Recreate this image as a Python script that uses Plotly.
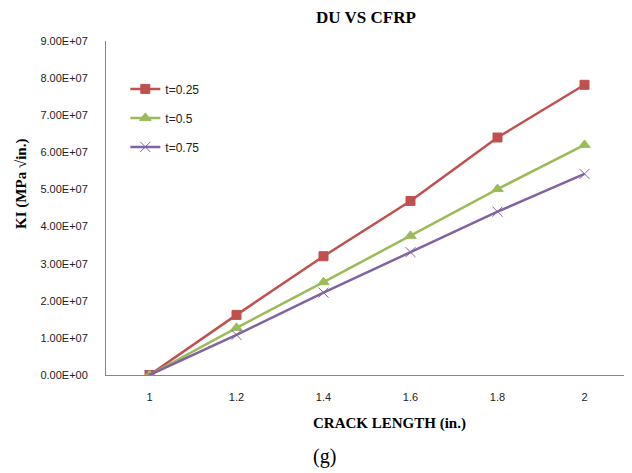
import plotly.graph_objects as go

crack_length = ["1", "1.2", "1.4", "1.6", "1.8", "2"]
t025 = [0, 1.62e7, 3.20e7, 4.69e7, 6.40e7, 7.82e7]
t05 = [0, 1.27e7, 2.50e7, 3.75e7, 5.01e7, 6.20e7]
t075 = [0, 1.08e7, 2.22e7, 3.31e7, 4.40e7, 5.42e7]
y_ticks = [i * 1e7 for i in range(10)]
y_tick_labels = ["%.2fE+07" % i if i else "0.00E+00" for i in range(10)]

fig = go.Figure()
series = [
    ("t=0.25", t025, "#C0504D", "square", 9),
    ("t=0.5", t05, "#9BBB59", "triangle-up", 10),
    ("t=0.75", t075, "#8064A2", "x-thin-open", 10),
]
for i, (name, vals, color, sym, sz) in enumerate(series):
    fig.add_trace(go.Scatter(
        x=crack_length, y=vals, name=name, mode="lines+markers",
        line=dict(color=color, width=2.5),
        marker=dict(symbol=sym, size=sz, color=color, line=dict(color=color, width=1)),
        legendgroup=str(i),
    ))

serif = "Liberation Serif"
sans = "Liberation Sans"
fig.update_layout(
    width=624, height=465,
    margin=dict(l=98, r=4, t=33, b=98),
    paper_bgcolor="white", plot_bgcolor="white",
    title=dict(text="<b>DU VS CFRP</b>", xref="paper", x=0.498, xanchor="center",
               yref="container", y=0.981, yanchor="middle",
               font=dict(family=serif, size=17, color="black")),
    showlegend=True,
    legend=dict(x=0.037, y=0.9, xanchor="left", yanchor="top", bgcolor="rgba(0,0,0,0)",
                font=dict(family=sans, size=12, color="#222"), tracegroupgap=10,
                traceorder="grouped", itemwidth=30),
    xaxis=dict(type="category", range=[-0.5, 5.5], showgrid=False, showline=True,
               linecolor="#868686", linewidth=1,
               ticks="outside", ticklen=12, tickcolor="rgba(0,0,0,0)",
               tickfont=dict(family=sans, size=11, color="#222")),
    yaxis=dict(range=[0, 9e7], tickvals=y_ticks, ticktext=y_tick_labels, showgrid=False,
               zeroline=False, showline=True, linecolor="#868686", linewidth=1,
               ticks="outside", ticklen=15, tickcolor="rgba(0,0,0,0)",
               tickfont=dict(family=sans, size=11, color="#222")),
    annotations=[
        dict(text="<b>KI (MPa √in.)</b>", textangle=-90, xref="paper", yref="paper",
             x=-0.161, y=0.572, showarrow=False, xanchor="center", yanchor="middle",
             font=dict(family=serif, size=15, color="black")),
        dict(text="<b>CRACK LENGTH (in.)</b>", xref="paper", yref="paper", x=0.544, y=-0.144,
             showarrow=False, xanchor="center", yanchor="middle",
             font=dict(family=serif, size=15, color="black")),
        dict(text="(g)", xref="paper", yref="paper", x=0.4195, y=-0.2455, showarrow=False,
             xanchor="center", yanchor="middle", font=dict(family=serif, size=20, color="black")),
    ],
)
fig.write_html("out.html")
